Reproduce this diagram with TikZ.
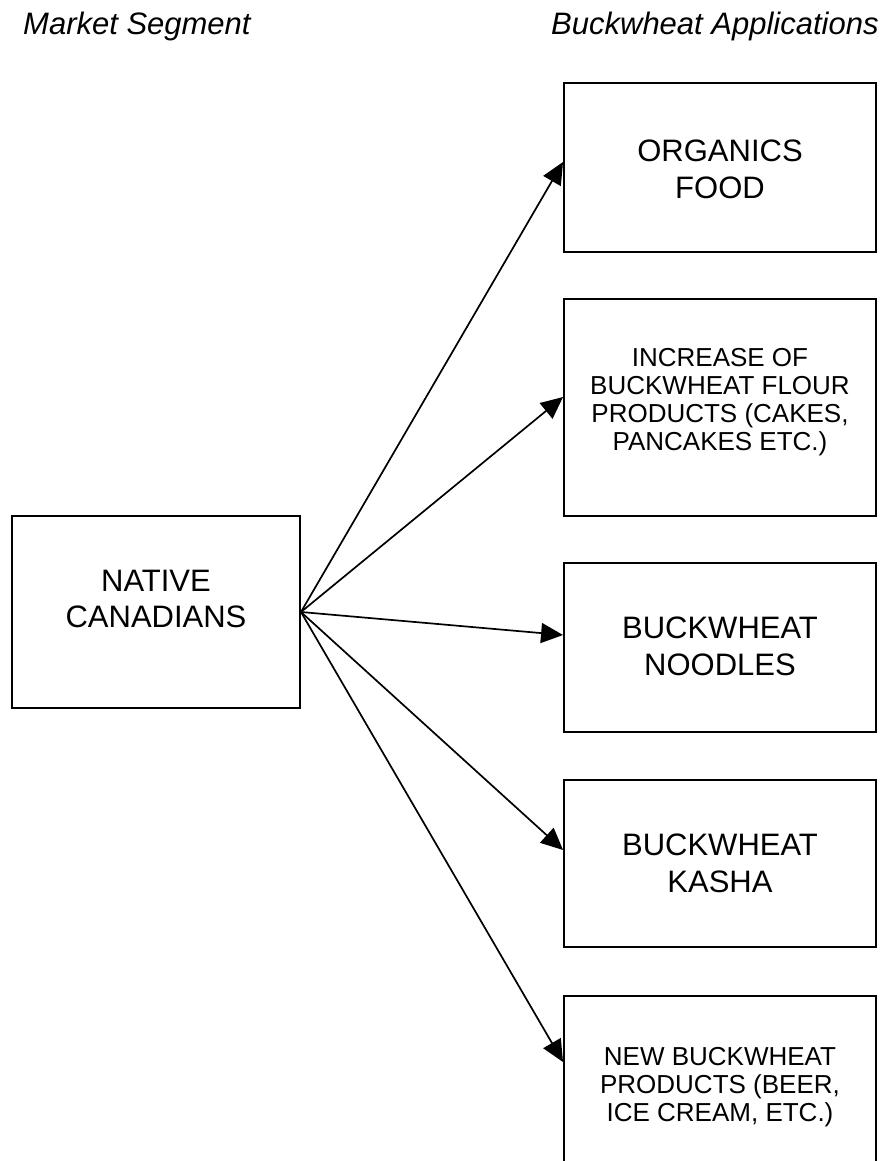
\documentclass[tikz,border=0pt]{standalone}
\usepackage{fontspec}
\setmainfont{Liberation Sans}
\usetikzlibrary{arrows.meta}
\tikzset{
  box/.style={draw=black, line width=1.9pt, rectangle, inner sep=0pt, minimum width=312pt},
  big/.style={align=center, font=\fontsize{31}{36.5}\selectfont, inner sep=0pt},
  small/.style={align=center, font=\fontsize{26}{28}\selectfont, inner sep=0pt},
  title/.style={anchor=base west, font=\fontsize{31}{36}\selectfont\itshape, inner sep=0pt},
  conn/.style={line width=1.7pt, -{Triangle[length=22pt,width=20pt]}}
}
\begin{document}
\begin{tikzpicture}[x=1pt,y=-1pt]
\useasboundingbox (0,0) rectangle (892,1161);
\fill[white] (0,0) rectangle (892,1161);
\begin{scope}
\clip (0,0) rectangle (892,1161);
% titles
\node[title] (t1) at (23,35) {Market Segment};
\node[title] (t2) at (551,35) {Buckwheat Applications};
% left box
\node[box, minimum width=288pt, minimum height=192pt] (n0) at (156,612) {};
\node[big] (n0t) at (156,599) {NATIVE\\CANADIANS};
% right boxes
\node[box, minimum height=169pt] (b1) at (720,167.5) {};
\node[big] (b1t) at (720,169.5) {ORGANICS\\FOOD};
\node[box, minimum height=217pt] (b2) at (720,407.5) {};
\node[small] (b2t) at (720,402) {INCREASE OF\\BUCKWHEAT FLOUR\\PRODUCTS (CAKES,\\PANCAKES ETC.)};
\node[box, minimum height=169pt] (b3) at (720,647.5) {};
\node[big] (b3t) at (720,646.5) {BUCKWHEAT\\NOODLES};
\node[box, minimum height=167pt] (b4) at (720,863.5) {};
\node[big] (b4t) at (720,863.5) {BUCKWHEAT\\KASHA};
\node[box, minimum height=204pt] (b5) at (720,1098) {};
\node[small] (b5t) at (720,1087) {NEW BUCKWHEAT\\PRODUCTS (BEER,\\ICE CREAM, ETC.)};
% connectors
\draw[conn] (n0.east) -- ([yshift=5.5pt]b1.west);
\draw[conn] (n0.east) -- ([yshift=10.5pt]b2.west);
\draw[conn] (n0.east) -- ([yshift=12.5pt]b3.west);
\draw[conn] (n0.east) -- ([yshift=13.5pt]b4.west);
\draw[conn] (n0.east) -- ([yshift=-67pt]b5.north west);
\end{scope}
\end{tikzpicture}
\end{document}
